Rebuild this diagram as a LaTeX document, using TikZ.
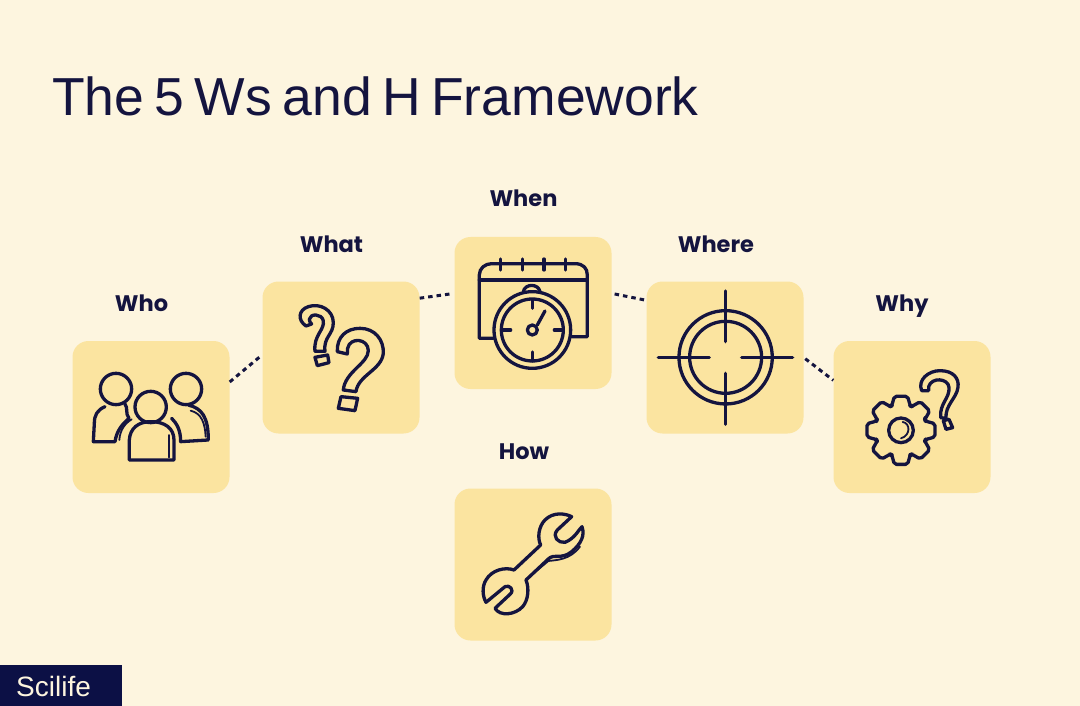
\documentclass[tikz,border=0pt]{standalone}
\usepackage{fontspec}
\setmainfont{Poppins}
\newfontfamily\headfont[WordSpace=0.7]{Liberation Sans}
\usetikzlibrary{shapes,arrows}
\definecolor{paper}{HTML}{FDF5DF}
\definecolor{honey}{HTML}{FBE4A0}
\definecolor{ink}{HTML}{14143F}
\definecolor{logoblue}{HTML}{0C1045}
\tikzset{icon/.style 2 args={shift={(#1,#2)},x=.3333pt,y=-.3333pt}}
\tikzstyle{block} = [rectangle, fill=honey, minimum width=157pt, minimum height=152pt,
    rounded corners=16pt, inner sep=0pt]
\tikzstyle{word} = [anchor=base, text=ink, inner sep=0pt, font=\fontsize{22.5}{26}\selectfont\bfseries]
\tikzstyle{dots} = [draw=ink, line width=3pt, dash pattern=on 4.5pt off 4pt]
\tikzstyle{pen} = [draw=ink, line width=3.3pt, line join=round, line cap=round]
\tikzstyle{thin pen} = [draw=ink, line width=1.8pt, line cap=round]

\begin{document}
\begin{tikzpicture}[x=1pt, y=-1pt]
    \useasboundingbox (0,0) rectangle (1080,706);
    \fill [paper] (0,0) rectangle (1080,706);
    \node [anchor=base west, inner sep=0pt, text=ink, font=\headfont\fontsize{53.5}{60}\selectfont] (title) at (52,116) {The 5 Ws and H Framework};
    % boxes
    \node [block] (who) at (151,417) {};
    \node [block] (what) at (341,357.5) {};
    \node [block] (when) at (533,313) {};
    \node [block] (where) at (725,357.5) {};
    \node [block] (why) at (912,417) {};
    \node [block] (how) at (533,564.5) {};
    \node [word] (whotext) at (141.5,311) {Who};
    \node [word] (whattext) at (331.5,252) {What};
    \node [word] (whentext) at (523.5,207) {When};
    \node [word] (wheretext) at (716,252) {Where};
    \node [word] (whytext) at (902,311) {Why};
    \node [word] (howtext) at (524,459) {How};
    \path [dots] (who.24) -- (what.178);
    \path [dots, shorten >=3pt] (what.37) -- (when.166);
    \path [dots, shorten <=3pt] (when.14) -- (where.144);
    \path [dots, shorten <=2pt] (where.0) -- (why.155);
    % who
    \begin{scope}[icon={60}{280}]
        \draw [pen] (168,327) circle [radius=47];
        \draw [pen] (378,327) circle [radius=47];
        \draw [pen] (272,381) circle [radius=47];
        \draw [pen] (135,380) .. controls (112,390) and (103,405) .. (103,430) -- (100,485) -- (165,485)
            .. controls (170,450) and (190,430) .. (207,415) .. controls (195,400) and (205,385) .. (195,372);
        \draw [thin pen] (178,480) .. controls (180,450) and (195,430) .. (215,418);
        \draw [pen] (385,375) .. controls (425,385) and (445,410) .. (445,480) -- (362,485)
            .. controls (362,450) and (350,430) .. (335,415);
        \draw [thin pen] (392,392) .. controls (425,400) and (435,430) .. (437,470);
        \draw [pen] (208,540) -- (208,480) .. controls (210,445) and (235,425) .. (272,425)
            .. controls (315,425) and (342,445) .. (342,480) -- (342,540) -- cycle;
        \draw [thin pen] (327,465) -- (327,532);
    \end{scope}
    % what
    \begin{scope}[icon={60}{280}]
        \draw [pen] (738,138) .. controls (712,120) and (715,90) .. (745,80)
            .. controls (780,68) and (820,90) .. (820,128)
            .. controls (820,165) and (790,170) .. (795,214) -- (765,214)
            .. controls (760,165) and (795,150) .. (790,122)
            .. controls (785,100) and (750,100) .. (748,118)
            .. controls (748,125) and (752,130) .. (755,132) -- cycle;
        \draw [pen] (765,232) -- (803,225) -- (807,248) -- (772,257) -- cycle;
        \draw [pen] (832,215) .. controls (830,170) and (860,145) .. (900,145)
            .. controls (945,145) and (972,180) .. (970,220)
            .. controls (965,270) and (895,285) .. (888,335) -- (850,330)
            .. controls (855,275) and (925,250) .. (925,212)
            .. controls (925,175) and (870,170) .. (863,205)
            .. controls (862,212) and (862,216) .. (862,222) -- cycle;
        \draw [pen] (843,350) -- (893,355) -- (885,392) -- (835,385) -- cycle;
    \end{scope}
    % when
    \begin{scope}[icon={410}{230}]
        \draw [pen] (250,325) -- (208,325) -- (208,135) .. controls (208,115) and (225,101) .. (245,101)
            -- (495,101) .. controls (520,101) and (532,115) .. (532,135) -- (532,320) -- (485,320);
        \draw [pen] (208,150) -- (532,150);
        \foreach \tickx in {272,337,402,467}
            \draw [pen] (\tickx,87) -- (\tickx,120);
        \draw [pen] (367,300) circle [radius=115];
        \draw [pen] (367,300) circle [radius=93];
        \draw [pen] (340,185) .. controls (345,160) and (385,160) .. (390,185);
        \draw [pen] (367,210) -- (367,235);
        \draw [pen] (367,366) -- (367,393);
        \draw [pen] (275,300) -- (302,300);
        \draw [pen] (433,300) -- (460,300);
        \draw [pen] (367,300) circle [radius=15];
        \draw [pen] (382,285) -- (405,243);
    \end{scope}
    % where
    \begin{scope}[icon={410}{230}]
        \draw [pen] (947,382) circle [radius=140];
        \draw [pen] (947,382) circle [radius=108];
        \draw [pen] (947,183) -- (947,335);
        \draw [pen] (947,430) -- (947,583);
        \draw [pen] (745,382) -- (898,382);
        \draw [pen] (995,382) -- (1148,382);
    \end{scope}
    % why
    \begin{scope}[icon={800}{330}]
        \begin{scope}[shift={(303,301)}]
            \draw [pen, rounded corners=2pt] (-24:78) \foreach \gearangle in {0,45,...,315} {
                -- (\gearangle-21:78) -- (\gearangle-11:104) -- (\gearangle+11:104) -- (\gearangle+21:78) } -- cycle;
            \draw [pen] (0,0) circle [radius=37];
            \draw [thin pen] (5,-25) .. controls (28,-22) and (30,15) .. (0,24);
        \end{scope}
        \draw [pen] (365,182) .. controls (352,150) and (385,122) .. (420,122)
            .. controls (460,122) and (478,145) .. (474,172)
            .. controls (470,205) and (435,225) .. (438,265) -- (422,263)
            .. controls (418,220) and (450,205) .. (447,172)
            .. controls (445,145) and (395,140) .. (386,170) -- (386,182) -- cycle;
        \draw [pen] (430,272) -- (447,268) -- (458,293) -- (438,298) -- cycle;
    \end{scope}
    % how
    \begin{scope}[icon={450}{485}]
        \draw [pen] (365,95) .. controls (345,85) and (310,80) .. (285,105)
            .. controls (265,125) and (262,160) .. (272,180) -- (192,255)
            .. controls (165,245) and (125,255) .. (108,285)
            .. controls (95,305) and (98,335) .. (108,352) -- (165,305)
            .. controls (178,298) and (195,315) .. (180,328) -- (135,370)
            .. controls (150,395) and (195,390) .. (218,365)
            .. controls (235,345) and (238,310) .. (228,285) -- (295,222)
            .. controls (310,205) and (335,225) .. (365,200)
            .. controls (395,175) and (405,150) .. (396,125)
            .. controls (385,135) and (375,160) .. (345,172)
            .. controls (325,175) and (305,155) .. (322,135) -- cycle;
        \draw [thin pen] (230,282) -- (295,228) .. controls (320,225) and (360,225) .. (390,185);
    \end{scope}
    % logo
    \fill [logoblue] (0,665) rectangle (122,706);
    \node [anchor=base west, inner sep=0pt, text=paper, font=\headfont\fontsize{28}{30}\selectfont] (logo) at (16,696) {Scilife};
\end{tikzpicture}
\end{document}
